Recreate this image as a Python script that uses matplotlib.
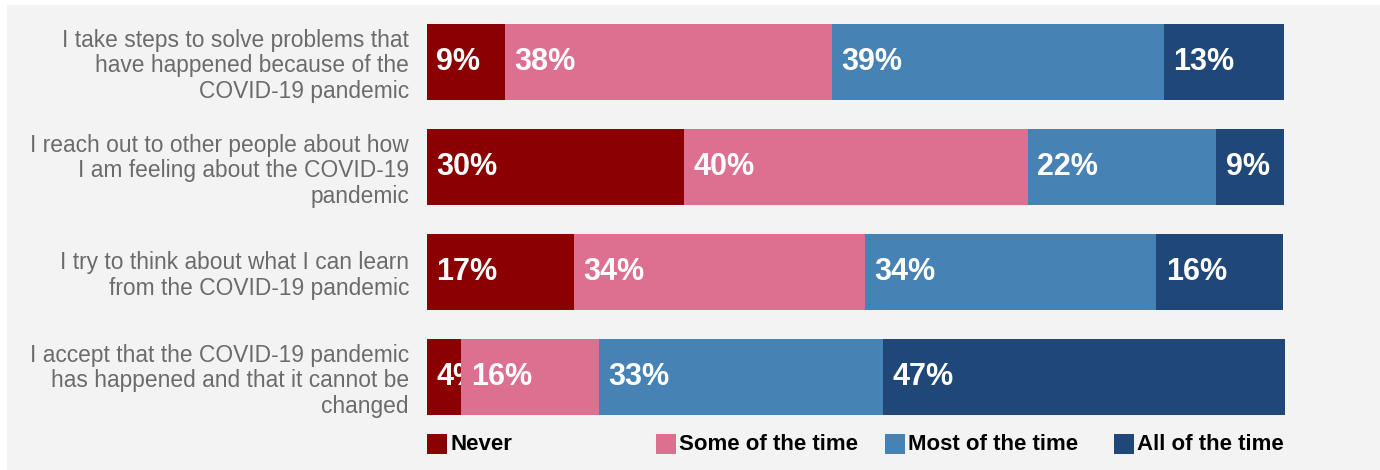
import numpy as np
import matplotlib.pyplot as plt
from matplotlib.patches import Rectangle

plt.rcParams['font.family'] = ['Liberation Sans', 'DejaVu Sans']

# statements (top to bottom)
statements = [
    'I take steps to solve problems that\nhave happened because of the\nCOVID-19 pandemic',
    'I reach out to other people about how\nI am feeling about the COVID-19\npandemic',
    'I try to think about what I can learn\nfrom the COVID-19 pandemic',
    'I accept that the COVID-19 pandemic\nhas happened and that it cannot be\nchanged',
]
responses = ['Never', 'Some of the time', 'Most of the time', 'All of the time']

# segment sizes
never = [9.1, 30.0, 17.1, 4.0]
some_time = [38.1, 40.1, 34.0, 16.1]
most_time = [38.8, 22.0, 34.0, 33.1]
all_time = [14.0, 7.9, 14.8, 46.9]

# printed labels
never_lbl = [9, 30, 17, 4]
some_lbl = [38, 40, 34, 16]
most_lbl = [39, 22, 34, 33]
all_lbl = [13, 9, 16, 47]

colors = ['#8b0000', '#dd7090', '#4682b4', '#1f4778']
bg = '#f3f3f3'

fig = plt.figure(figsize=(13.8, 4.7), dpi=100)
fig.patch.set_facecolor('white')
fig.patches.append(Rectangle((7 / 1380, 0), 1, 1 - 5 / 470, transform=fig.transFigure,
                             facecolor=bg, edgecolor='none', zorder=-10))

ax = fig.add_axes([427 / 1380, 1 - 415 / 470, 858 / 1380, 391 / 470])
ax.set_facecolor('none')

series = [never, some_time, most_time, all_time]
labels = [never_lbl, some_lbl, most_lbl, all_lbl]
y = np.arange(len(statements))
h = 0.724
left = np.zeros(len(statements))
for i, (vals, lbls, col) in enumerate(zip(series, labels, colors)):
    vals = np.array(vals)
    # each segment is drawn over the labels of the previous one
    ax.barh(y, vals, left=left, height=h, color=col, edgecolor='none', zorder=2 + 2 * i)
    for yi, l, t in zip(y, left, lbls):
        ax.text(l + 1.1, yi, f'{t}%', color='white', fontsize=22, fontweight='bold',
                ha='left', va='center', zorder=3 + 2 * i)
    left = left + vals

ax.set_xlim(0, left.max())
ax.set_ylim(len(statements) - 1 + h / 2, -h / 2)
ax.set_xticks([])
ax.set_yticks(y)
ax.set_yticklabels(statements, fontsize=16.4, color='#6b6b6b', linespacing=1.15)
ax.tick_params(axis='y', length=0, pad=13)
for s in ax.spines.values():
    s.set_visible(False)

# legend across the bar width
for i, (name, col) in enumerate(zip(responses, colors)):
    x0 = (427 + 229 * i) / 1380
    fig.patches.append(Rectangle((x0, 1 - 454 / 470), 20 / 1380, 20 / 470,
                                 transform=fig.transFigure, facecolor=col, edgecolor='none'))
    fig.text(x0 + 23 / 1380, 1 - 444 / 470, name, fontsize=16, fontweight='bold',
             color='black', ha='left', va='center')

fig.savefig('out.png', dpi=100, facecolor=fig.get_facecolor())
